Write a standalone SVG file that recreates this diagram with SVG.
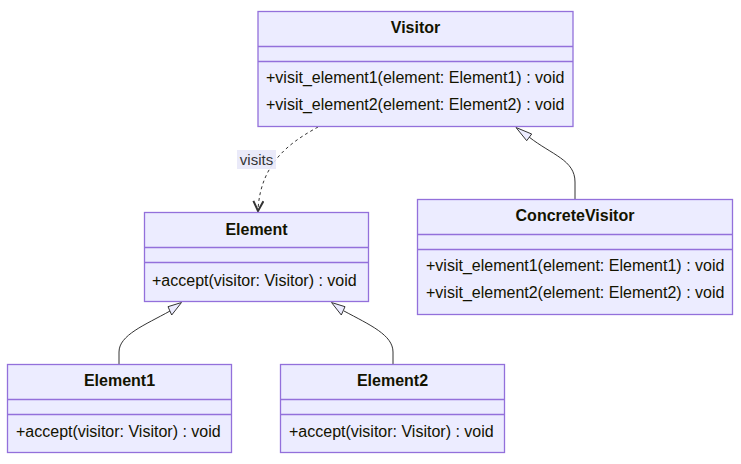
<svg xmlns="http://www.w3.org/2000/svg" width="741" height="464" viewBox="0 0 741 464">
<defs>
<style>
.box{fill:#ECECFF;stroke:#9370DB;stroke-width:1.3}
.div{stroke:#9370DB;stroke-width:1.3}
.t{font-family:"Trebuchet MS","Liberation Sans",Arial,sans-serif;font-size:16px;fill:#131300}
.h{font-weight:bold;text-anchor:middle}
.e{fill:none;stroke:#333;stroke-width:1}
.tri{fill:#ECECFF;stroke:#333;stroke-width:1;stroke-linejoin:miter}
.lbl{font-family:"Trebuchet MS","Liberation Sans",Arial,sans-serif;font-size:15px;fill:#333;text-anchor:middle}
</style>
<marker id="dep" viewBox="0 0 12 12" refX="11" refY="6" markerWidth="12" markerHeight="12" markerUnits="userSpaceOnUse" orient="auto">
<path d="M1,1 L11,6 L1,11" fill="none" stroke="#333" stroke-width="2"/>
</marker>
</defs>
<rect width="741" height="464" fill="#fff"/>
<g id="edges">
<path class="e" d="M318,127 C295,140 260,160 258,211" stroke-dasharray="3,3" marker-end="url(#dep)"/>
<path class="e" d="M575,199 L575,182 C575,160 552,155 529,137"/>
<polygon class="tri" points="516,127.5 531.7,134 526.7,140.7"/>
<path class="e" d="M119,364 L119,352 C119,335 145,325 170,311"/>
<polygon class="tri" points="181.5,302.5 168,306.7 171.7,315"/>
<path class="e" d="M393,364 L393,352 C393,335 370,325 344,311"/>
<polygon class="tri" points="331.5,302.5 345,306.7 341.3,315"/>
</g>
<g id="edge-label">
<rect x="237" y="150" width="39" height="19" fill="#E8E8F8" opacity="0.9"/>
<text class="lbl" x="256.5" y="165">visits</text>
</g>
<g id="Visitor">
<rect class="box" x="258" y="11.5" width="315" height="115"/>
<line class="div" x1="258" y1="46.5" x2="573" y2="46.5"/>
<line class="div" x1="258" y1="61.5" x2="573" y2="61.5"/>
<text class="t h" x="415.5" y="33">Visitor</text>
<text class="t" x="266" y="83">+visit_element1(element: Element1) : void</text>
<text class="t" x="266" y="110">+visit_element2(element: Element2) : void</text>
</g>
<g id="ConcreteVisitor">
<rect class="box" x="417.5" y="199.5" width="315" height="115"/>
<line class="div" x1="417.5" y1="234.5" x2="732.5" y2="234.5"/>
<line class="div" x1="417.5" y1="249.5" x2="732.5" y2="249.5"/>
<text class="t h" x="575" y="221">ConcreteVisitor</text>
<text class="t" x="426" y="271">+visit_element1(element: Element1) : void</text>
<text class="t" x="426" y="298">+visit_element2(element: Element2) : void</text>
</g>
<g id="Element">
<rect class="box" x="144.5" y="212.5" width="224" height="89"/>
<line class="div" x1="144.5" y1="247.5" x2="368.5" y2="247.5"/>
<line class="div" x1="144.5" y1="262.5" x2="368.5" y2="262.5"/>
<text class="t h" x="256.5" y="235">Element</text>
<text class="t" x="152" y="286">+accept(visitor: Visitor) : void</text>
</g>
<g id="Element1">
<rect class="box" x="7.5" y="364.5" width="224" height="88"/>
<line class="div" x1="7.5" y1="399.5" x2="231.5" y2="399.5"/>
<line class="div" x1="7.5" y1="414.5" x2="231.5" y2="414.5"/>
<text class="t h" x="119.5" y="386">Element1</text>
<text class="t" x="16" y="437">+accept(visitor: Visitor) : void</text>
</g>
<g id="Element2">
<rect class="box" x="280.5" y="364.5" width="224" height="88"/>
<line class="div" x1="280.5" y1="399.5" x2="504.5" y2="399.5"/>
<line class="div" x1="280.5" y1="414.5" x2="504.5" y2="414.5"/>
<text class="t h" x="392.5" y="386">Element2</text>
<text class="t" x="289" y="437">+accept(visitor: Visitor) : void</text>
</g>
</svg>
